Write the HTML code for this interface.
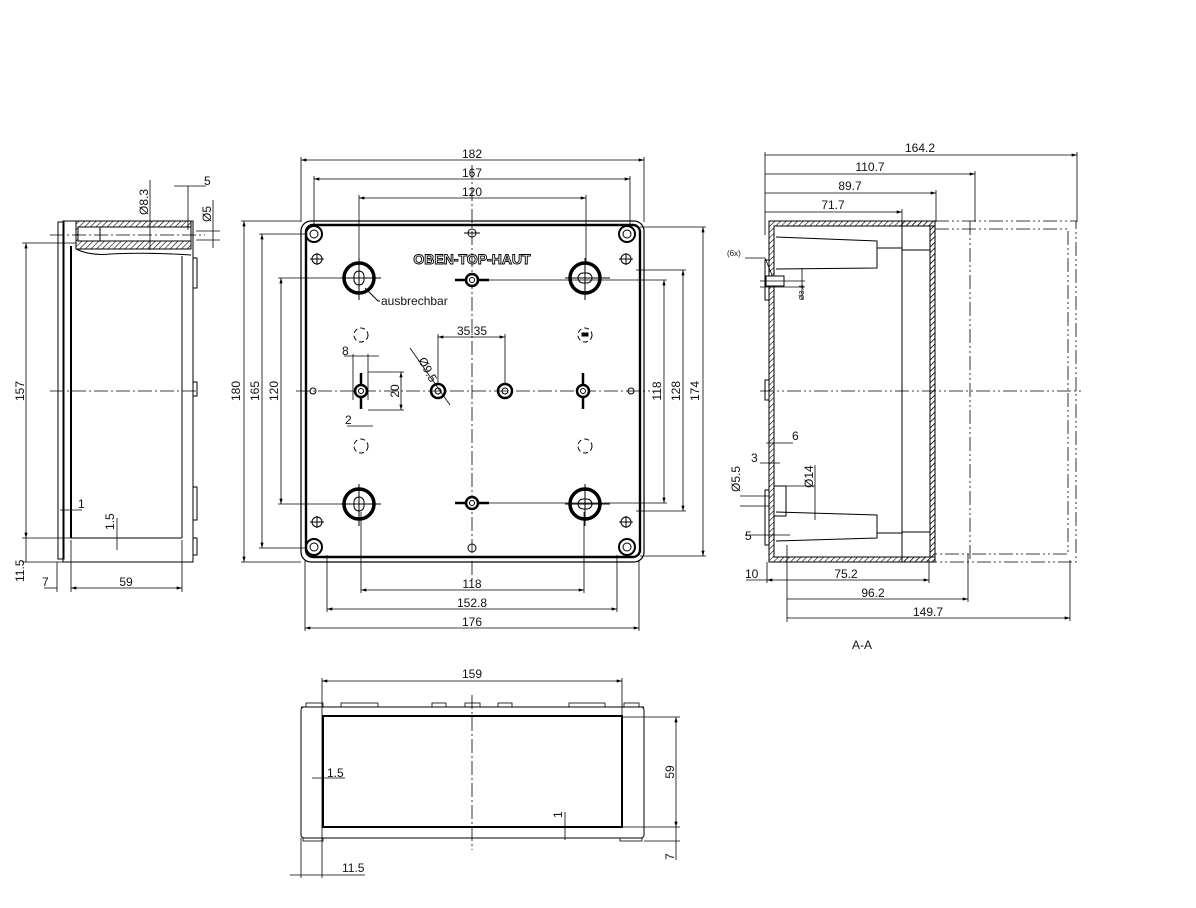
<!DOCTYPE html>
<html><head><meta charset="utf-8"><style>
html,body{margin:0;padding:0;background:#fff}
svg{display:block}
text{font-family:"Liberation Sans",sans-serif;font-size:12px;fill:#111}
</style></head><body>
<svg width="1196" height="908" viewBox="0 0 1196 908" xmlns="http://www.w3.org/2000/svg">
<defs>
<marker id="a" viewBox="0 0 10 6" refX="10" refY="3" markerWidth="8" markerHeight="4" orient="auto-start-reverse"><path d="M0,0L10,3L0,6z" fill="#000"/></marker>
<pattern id="h" width="4" height="4" patternUnits="userSpaceOnUse" patternTransform="rotate(45)"><line x1="0" y1="0" x2="0" y2="4" stroke="#000" stroke-width="1.2"/></pattern>
</defs>
<g stroke="#000" fill="none" stroke-width="1">
<!-- ===== FRONT VIEW ===== -->
<rect x="301" y="221" width="343" height="341" rx="10" stroke-width="1.2"/>
<rect x="306" y="225" width="334" height="332" rx="7" stroke-width="2.4"/>
<g stroke-dasharray="14,3,2,3" stroke-width="0.8">
<line x1="472" y1="165" x2="472" y2="580"/>
<line x1="296" y1="391" x2="650" y2="391"/>
</g>
<!-- corner screws -->
<g stroke-width="2">
<circle cx="314" cy="234" r="8"/><circle cx="627" cy="234" r="8"/>
<circle cx="314" cy="547" r="8"/><circle cx="627" cy="547" r="8"/>
</g>
<g stroke-width="1">
<circle cx="314" cy="234" r="4"/><circle cx="627" cy="234" r="4"/>
<circle cx="314" cy="547" r="4"/><circle cx="627" cy="547" r="4"/>
<circle cx="317" cy="259" r="5"/><circle cx="626" cy="259" r="5"/>
<circle cx="317" cy="522" r="5"/><circle cx="626" cy="522" r="5"/>
<line x1="310" y1="259" x2="324" y2="259"/><line x1="317" y1="253" x2="317" y2="265"/>
<line x1="619" y1="259" x2="633" y2="259"/><line x1="626" y1="253" x2="626" y2="265"/>
<line x1="310" y1="522" x2="324" y2="522"/><line x1="317" y1="516" x2="317" y2="528"/>
<line x1="619" y1="522" x2="633" y2="522"/><line x1="626" y1="516" x2="626" y2="528"/>
</g>
<!-- knockouts -->
<g stroke-width="3.5">
<circle cx="359" cy="278" r="15"/><circle cx="585" cy="278" r="15"/>
<circle cx="359" cy="504" r="15"/><circle cx="585" cy="504" r="15"/>
</g>
<g stroke-width="1">
<rect x="354" y="271" width="10" height="14" rx="5"/><rect x="578" y="273" width="14" height="10" rx="5"/>
<rect x="354" y="497" width="10" height="14" rx="5"/><rect x="578" y="499" width="14" height="10" rx="5"/>
<line x1="341" y1="278" x2="381" y2="278"/><line x1="359" y1="258" x2="359" y2="300"/>
<line x1="565" y1="278" x2="610" y2="278"/><line x1="585" y1="258" x2="585" y2="300"/>
<line x1="341" y1="504" x2="381" y2="504"/><line x1="359" y1="484" x2="359" y2="526"/>
<line x1="565" y1="504" x2="610" y2="504"/><line x1="585" y1="484" x2="585" y2="526"/>
<path d="M365,288 L378,301 L380,301"/>
</g>
<!-- keyhole slots -->
<g stroke-width="2.5">
<line x1="455" y1="280" x2="489" y2="280"/><circle cx="472" cy="280" r="6" fill="#fff"/>
<line x1="455" y1="503" x2="489" y2="503"/><circle cx="472" cy="503" r="6" fill="#fff"/>
<line x1="361" y1="373" x2="361" y2="409"/><circle cx="361" cy="391" r="6" fill="#fff"/>
<line x1="583" y1="373" x2="583" y2="409"/><circle cx="583" cy="391" r="6" fill="#fff"/>
<circle cx="438" cy="391" r="7"/><circle cx="505" cy="391" r="7"/>
</g>
<circle cx="438" cy="391" r="3"/><circle cx="505" cy="391" r="3"/>
<circle cx="472" cy="280" r="2.5"/><circle cx="472" cy="503" r="2.5"/>
<circle cx="361" cy="391" r="2.5"/><circle cx="583" cy="391" r="2.5"/>
<circle cx="313" cy="391" r="3"/><circle cx="631" cy="391" r="3"/>
<circle cx="472" cy="233" r="4"/><circle cx="472" cy="548" r="4"/>
<line x1="464" y1="233" x2="480" y2="233"/>
<g stroke-dasharray="5,3">
<circle cx="361" cy="335" r="7"/><circle cx="585" cy="335" r="7"/>
<circle cx="361" cy="446" r="7"/><circle cx="585" cy="446" r="7"/>
</g>
<rect x="582" y="333" width="6" height="3" fill="#000"/>
<!-- front view dims -->
<g stroke-width="0.8">
<line x1="301" y1="157" x2="301" y2="222"/><line x1="644" y1="157" x2="644" y2="222"/>
<line x1="301" y1="160" x2="644" y2="160" marker-start="url(#a)" marker-end="url(#a)"/>
<line x1="314" y1="176" x2="314" y2="226"/><line x1="630" y1="176" x2="630" y2="226"/>
<line x1="314" y1="179" x2="630" y2="179" marker-start="url(#a)" marker-end="url(#a)"/>
<line x1="359" y1="195" x2="359" y2="262"/><line x1="586" y1="195" x2="586" y2="262"/>
<line x1="359" y1="198" x2="586" y2="198" marker-start="url(#a)" marker-end="url(#a)"/>
<line x1="241" y1="221" x2="301" y2="221"/><line x1="241" y1="562" x2="301" y2="562"/>
<line x1="244" y1="221" x2="244" y2="562" marker-start="url(#a)" marker-end="url(#a)"/>
<line x1="259" y1="234" x2="306" y2="234"/><line x1="259" y1="548" x2="306" y2="548"/>
<line x1="262" y1="234" x2="262" y2="548" marker-start="url(#a)" marker-end="url(#a)"/>
<line x1="278" y1="278" x2="342" y2="278"/><line x1="278" y1="504" x2="342" y2="504"/>
<line x1="281" y1="278" x2="281" y2="504" marker-start="url(#a)" marker-end="url(#a)"/>
<line x1="640" y1="227" x2="706" y2="227"/><line x1="640" y1="556" x2="706" y2="556"/>
<line x1="703" y1="227" x2="703" y2="556" marker-start="url(#a)" marker-end="url(#a)"/>
<line x1="636" y1="270" x2="686" y2="270"/><line x1="636" y1="511" x2="686" y2="511"/>
<line x1="683" y1="270" x2="683" y2="511" marker-start="url(#a)" marker-end="url(#a)"/>
<line x1="480" y1="280" x2="667" y2="280"/><line x1="480" y1="503" x2="667" y2="503"/>
<line x1="664" y1="280" x2="664" y2="503" marker-start="url(#a)" marker-end="url(#a)"/>
<line x1="361" y1="512" x2="361" y2="593"/><line x1="584" y1="512" x2="584" y2="593"/>
<line x1="361" y1="590" x2="584" y2="590" marker-start="url(#a)" marker-end="url(#a)"/>
<line x1="327" y1="555" x2="327" y2="612"/><line x1="617" y1="555" x2="617" y2="612"/>
<line x1="327" y1="609" x2="617" y2="609" marker-start="url(#a)" marker-end="url(#a)"/>
<line x1="305" y1="560" x2="305" y2="631"/><line x1="639" y1="560" x2="639" y2="631"/>
<line x1="305" y1="628" x2="639" y2="628" marker-start="url(#a)" marker-end="url(#a)"/>
<line x1="438" y1="334" x2="438" y2="385"/><line x1="505" y1="334" x2="505" y2="385"/>
<line x1="438" y1="337" x2="505" y2="337" marker-start="url(#a)" marker-end="url(#a)"/>
<line x1="410" y1="348" x2="450" y2="405"/>
<line x1="344" y1="356" x2="379" y2="356"/><line x1="353" y1="354" x2="353" y2="400"/><line x1="368" y1="354" x2="368" y2="400"/>
<line x1="368" y1="372" x2="404" y2="372"/><line x1="368" y1="410" x2="404" y2="410"/>
<line x1="401" y1="372" x2="401" y2="410" marker-start="url(#a)" marker-end="url(#a)"/>
<line x1="347" y1="426" x2="373" y2="426"/>
</g>
<!-- ===== LEFT SIDE VIEW ===== -->
<rect x="58" y="222" width="6" height="337" stroke-width="1"/>
<rect x="63" y="221" width="130" height="341" stroke-width="1"/>
<line x1="71" y1="246" x2="71" y2="538" stroke-width="2"/>
<line x1="182" y1="256" x2="182" y2="538"/>
<line x1="71" y1="538" x2="182" y2="538"/>
<rect x="76" y="221" width="115" height="28" fill="url(#h)"/>
<rect x="78" y="227" width="113" height="14" fill="#fff"/>
<rect x="78" y="227" width="22" height="14"/>
<path d="M76,249 Q90,256 110,254 Q150,252 191,255"/>
<rect x="193" y="258" width="4" height="30"/><rect x="193" y="382" width="4" height="14"/>
<rect x="193" y="487" width="4" height="33"/><rect x="193" y="538" width="4" height="17"/>
<g stroke-dasharray="14,3,2,3" stroke-width="0.8">
<line x1="50" y1="235" x2="205" y2="235"/><line x1="50" y1="391" x2="197" y2="391"/>
</g>
<g stroke-width="0.8">
<line x1="22" y1="243" x2="76" y2="243"/><line x1="22" y1="538" x2="71" y2="538"/><line x1="22" y1="562" x2="63" y2="562"/>
<line x1="26" y1="243" x2="26" y2="538" marker-start="url(#a)" marker-end="url(#a)"/>
<line x1="26" y1="538" x2="26" y2="562"/>
<line x1="57" y1="562" x2="57" y2="592"/><line x1="71" y1="540" x2="71" y2="592"/><line x1="182" y1="540" x2="182" y2="592"/>
<line x1="71" y1="588" x2="182" y2="588" marker-start="url(#a)" marker-end="url(#a)"/>
<line x1="44" y1="588" x2="57" y2="588"/>
<line x1="60" y1="510" x2="82" y2="510"/><line x1="117" y1="518" x2="117" y2="550"/>
<line x1="150" y1="180" x2="150" y2="250"/>
<line x1="174" y1="186" x2="206" y2="186"/><line x1="188" y1="186" x2="188" y2="230"/>
<line x1="196" y1="231" x2="220" y2="231"/><line x1="196" y1="240" x2="220" y2="240"/><line x1="213" y1="200" x2="213" y2="248"/>
</g>
<!-- ===== SECTION A-A ===== -->
<path d="M769,221 H935 V562 H769 Z M774,226 V557 H902 V226 Z" fill="url(#h)" stroke="none"/>
<rect x="769" y="221" width="166" height="341"/>
<rect x="774" y="226" width="156" height="331"/>
<rect x="902" y="226" width="28" height="331" fill="#fff"/>
<line x1="902" y1="226" x2="902" y2="557"/>
<rect x="930" y="226" width="5" height="331" fill="url(#h)"/>
<rect x="902" y="221" width="33" height="5" fill="url(#h)"/>
<rect x="902" y="557" width="33" height="5" fill="url(#h)"/>
<path d="M776,237 L877,241 V268 L776,269"/><line x1="877" y1="248" x2="902" y2="248"/>
<path d="M776,512 L877,515 V538 L776,541"/><line x1="877" y1="533" x2="902" y2="533"/>
<line x1="902" y1="250" x2="930" y2="250"/><line x1="902" y1="532" x2="930" y2="532"/>
<rect x="765" y="260" width="4" height="40"/><rect x="765" y="380" width="4" height="20"/><rect x="765" y="490" width="4" height="55"/>
<rect x="766" y="276" width="18" height="10" fill="#fff"/><rect x="774" y="486" width="12" height="30"/>
<g stroke-dasharray="14,3,2,3,2,3" stroke-width="0.8">
<rect x="935" y="221" width="141" height="341"/>
<path d="M935,229 H1068 V554 H935"/>
<line x1="970" y1="221" x2="970" y2="562"/>
<line x1="760" y1="391" x2="1082" y2="391"/>
</g>
<g stroke-width="0.8">
<line x1="765" y1="152" x2="765" y2="235"/>
<line x1="1077" y1="152" x2="1077" y2="222"/><line x1="765" y1="155" x2="1077" y2="155" marker-end="url(#a)"/>
<line x1="975" y1="171" x2="975" y2="222"/><line x1="765" y1="174" x2="975" y2="174" marker-end="url(#a)"/>
<line x1="936" y1="190" x2="936" y2="222"/><line x1="765" y1="193" x2="936" y2="193" marker-end="url(#a)"/>
<line x1="902" y1="209" x2="902" y2="226"/><line x1="765" y1="212" x2="902" y2="212" marker-end="url(#a)"/>
<line x1="767" y1="562" x2="767" y2="583"/><line x1="929" y1="560" x2="929" y2="583"/>
<line x1="767" y1="580" x2="929" y2="580" marker-start="url(#a)" marker-end="url(#a)"/>
<line x1="746" y1="580" x2="767" y2="580"/>
<line x1="787" y1="545" x2="787" y2="622"/><line x1="968" y1="554" x2="968" y2="602"/><line x1="1070" y1="560" x2="1070" y2="621"/>
<line x1="787" y1="599" x2="968" y2="599" marker-end="url(#a)"/>
<line x1="787" y1="618" x2="1070" y2="618" marker-end="url(#a)"/>
<line x1="745" y1="258" x2="765" y2="258"/><line x1="765" y1="258" x2="772" y2="275"/>
<line x1="760" y1="281" x2="805" y2="281"/><line x1="760" y1="287" x2="805" y2="287"/><line x1="802" y1="268" x2="802" y2="300"/>
<line x1="766" y1="443" x2="793" y2="443"/>
<line x1="760" y1="463" x2="780" y2="463"/>
<line x1="740" y1="496" x2="770" y2="496"/><line x1="740" y1="506" x2="770" y2="506"/>
<line x1="781" y1="486" x2="815" y2="486"/><line x1="815" y1="465" x2="815" y2="520"/>
<line x1="745" y1="535" x2="790" y2="535"/>
</g>
<!-- ===== BOTTOM VIEW ===== -->
<rect x="301" y="707" width="343" height="131" rx="3"/>
<rect x="323" y="716" width="299" height="111" stroke-width="2"/>
<line x1="301" y1="707" x2="644" y2="707"/>
<g stroke-width="0.8">
<rect x="306" y="703" width="17" height="4"/><rect x="341" y="703" width="37" height="4"/><rect x="432" y="703" width="14" height="4"/>
<rect x="465" y="703" width="15" height="4"/><rect x="498" y="703" width="14" height="4"/><rect x="569" y="703" width="36" height="4"/><rect x="624" y="703" width="15" height="4"/>
<rect x="303" y="838" width="20" height="3"/><rect x="620" y="838" width="22" height="3"/>
</g>
<line x1="472" y1="695" x2="472" y2="850" stroke-dasharray="14,3,2,3" stroke-width="0.8"/>
<g stroke-width="0.8">
<line x1="322" y1="678" x2="322" y2="878"/><line x1="622" y1="678" x2="622" y2="716"/>
<line x1="322" y1="681" x2="622" y2="681" marker-start="url(#a)" marker-end="url(#a)"/>
<line x1="622" y1="717" x2="680" y2="717"/><line x1="622" y1="827" x2="680" y2="827"/><line x1="644" y1="841" x2="680" y2="841"/>
<line x1="676" y1="717" x2="676" y2="827" marker-start="url(#a)" marker-end="url(#a)"/>
<line x1="676" y1="827" x2="676" y2="860"/>
<line x1="301" y1="838" x2="301" y2="878"/>
<line x1="290" y1="875" x2="365" y2="875"/>
<line x1="312" y1="778" x2="345" y2="778"/>
<line x1="565" y1="812" x2="565" y2="840"/>
</g>
</g>
<!-- TEXT -->
<text x="472" y="158" text-anchor="middle">182</text>
<text x="472" y="177" text-anchor="middle">167</text>
<text x="472" y="196" text-anchor="middle">120</text>
<text x="472" y="588" text-anchor="middle">118</text>
<text x="472" y="607" text-anchor="middle">152.8</text>
<text x="472" y="626" text-anchor="middle">176</text>
<text x="472" y="335" text-anchor="middle">35.35</text>
<text x="472" y="264" text-anchor="middle" font-weight="bold" style="font-size:14px;fill:#fff;stroke:#000;stroke-width:0.9">OBEN-TOP-HAUT</text>
<text x="381" y="305">ausbrechbar</text>
<text x="342" y="355">8</text>
<text x="345" y="424">2</text>
<text transform="translate(240,391) rotate(-90)" text-anchor="middle">180</text>
<text transform="translate(259,391) rotate(-90)" text-anchor="middle">165</text>
<text transform="translate(278,391) rotate(-90)" text-anchor="middle">120</text>
<text transform="translate(399,391) rotate(-90)" text-anchor="middle">20</text>
<text transform="translate(661,391) rotate(-90)" text-anchor="middle">118</text>
<text transform="translate(680,391) rotate(-90)" text-anchor="middle">128</text>
<text transform="translate(699,391) rotate(-90)" text-anchor="middle">174</text>
<text transform="translate(418,360) rotate(62)">Ø9.5</text>
<text transform="translate(24,391) rotate(-90)" text-anchor="middle">157</text>
<text transform="translate(24,582) rotate(-90)">11.5</text>
<text x="42" y="586">7</text>
<text x="126" y="586" text-anchor="middle">59</text>
<text x="78" y="508">1</text>
<text transform="translate(114,530) rotate(-90)">1.5</text>
<text transform="translate(148,215) rotate(-90)">Ø8.3</text>
<text x="204" y="185">5</text>
<text transform="translate(211,222) rotate(-90)">Ø5</text>
<text x="920" y="152" text-anchor="middle">164.2</text>
<text x="870" y="171" text-anchor="middle">110.7</text>
<text x="850" y="190" text-anchor="middle">89.7</text>
<text x="833" y="209" text-anchor="middle">71.7</text>
<text x="846" y="578" text-anchor="middle">75.2</text>
<text x="873" y="597" text-anchor="middle">96.2</text>
<text x="928" y="616" text-anchor="middle">149.7</text>
<text x="745" y="578">10</text>
<text x="862" y="649" text-anchor="middle">A-A</text>
<text x="727" y="256" style="font-size:8px">(6x)</text>
<text x="792" y="440">6</text>
<text x="751" y="462">3</text>
<text x="745" y="540">5</text>
<text transform="translate(740,492) rotate(-90)">Ø5.5</text>
<text transform="translate(813,488) rotate(-90)">Ø14</text>
<text transform="translate(804,300) rotate(-90)" style="font-size:7px">Ø3.4</text>
<text x="472" y="678" text-anchor="middle">159</text>
<text x="327" y="777">1.5</text>
<text x="342" y="872">11.5</text>
<text transform="translate(674,772) rotate(-90)" text-anchor="middle">59</text>
<text transform="translate(674,860) rotate(-90)">7</text>
<text transform="translate(562,818) rotate(-90)">1</text>
</svg>
</body></html>
